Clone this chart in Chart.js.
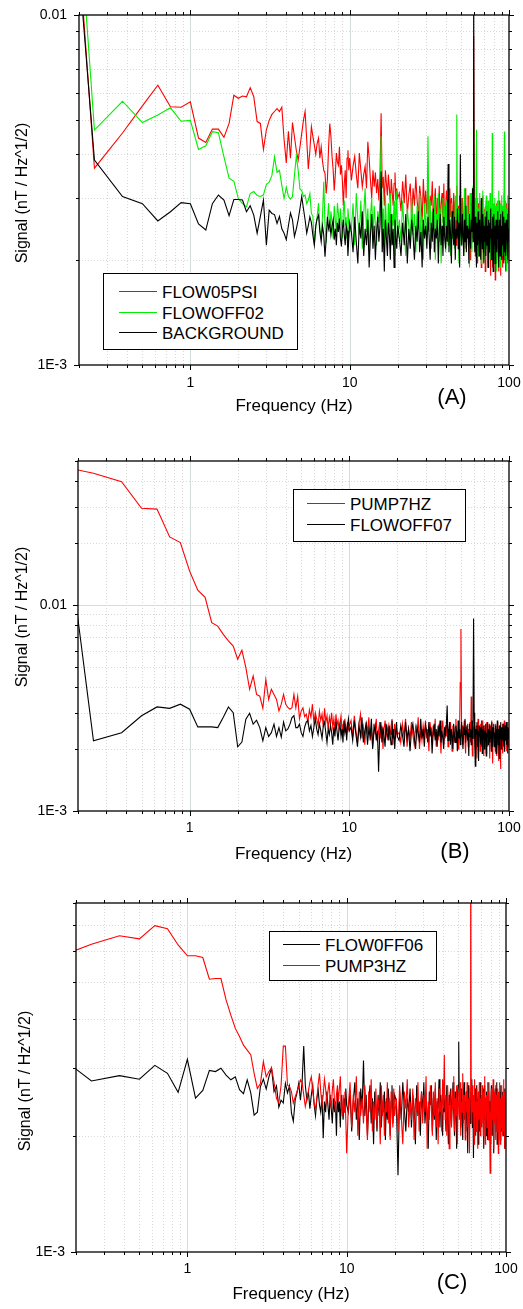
<!DOCTYPE html>
<html>
<head>
<meta charset="utf-8">
<title>Signal spectra</title>
<script src="https://cdn.jsdelivr.net/npm/chart.js@4.4.1/dist/chart.umd.min.js"></script>
<style>
  body { margin: 0; background: #fff; font-family: 'Liberation Sans', Arial, sans-serif; color: #000; }
  #page { position: relative; width: 523px; height: 1309px; overflow: hidden; }
  #page canvas { position: absolute; left: 0; }
  .ytitle { position: absolute; font-size: 16px; line-height: 1; white-space: nowrap; transform: translate(-50%, -50%) rotate(-90deg); }
  .tag { position: absolute; font-size: 22px; line-height: 1; white-space: nowrap; transform: translate(-50%, -50%); }
  .legend { position: absolute; border: 1px solid #000; background: #fff; box-sizing: border-box; }
  .legend .swatch { position: absolute; height: 0; border-top: 1.5px solid #000; }
  .legend .name { position: absolute; font-size: 17px; line-height: 1; white-space: nowrap; transform: translateY(-50%); }
</style>
</head>
<body>
<div id="page">
  <canvas id="panelA" width="523" height="420" style="top:0px"></canvas>
  <canvas id="panelB" width="523" height="430" style="top:440px"></canvas>
  <canvas id="panelC" width="523" height="429" style="top:880px"></canvas>
</div>
<script>
// spectral density values are stored in units of 1e-3 nT / Hz^1/2
const UNIT = 1e-3;

// frequency bins: 0.125 Hz resolution up to 10 Hz, coarser above
const binSegments = [
  [0.125, 0.125, 80],
  [10.25, 0.25, 40],
  [20.5, 0.5, 160]
];
const freqBins = [];
binSegments.forEach(([start, step, n]) => {
  for (let k = 0; k < n; k++) freqBins.push(+(start + k * step).toFixed(3));
});

const xTicks = [0.2, 0.3, 0.4, 0.5, 0.6, 0.7, 0.8, 0.9, 1, 2, 3, 4, 5, 6, 7, 8, 9, 10, 20, 30, 40, 50, 60, 70, 80, 90, 100];
const xTickText = ['', '', '', '', '', '', '', '', '1', '', '', '', '', '', '', '', '', '10', '', '', '', '', '', '', '', '', '100'];

const yTicksA = [0.001, 0.002, 0.003, 0.004, 0.005, 0.006, 0.007, 0.008, 0.009, 0.01];
const yTextA = ['1E-3', '', '', '', '', '', '', '', '', '0.01'];
const yTicksB = [0.001, 0.002, 0.003, 0.004, 0.005, 0.006, 0.007, 0.008, 0.009, 0.01, 0.02, 0.03, 0.04, 0.05];
const yTextB = ['1E-3', '', '', '', '', '', '', '', '', '0.01', '', '', '', ''];
const yTicksC = [0.001, 0.002, 0.003, 0.004, 0.005, 0.006, 0.007, 0.008];
const yTextC = ['1E-3', '', '', '', '', '', '', ''];

// ---- panel A ----
const flow05psi = [
  300, 3.65, 4.6, 5.5, 6.3, 5.47, 5.45, 5.65, 4.45, 4.32,
  4.72, 4.72, 4.47, 4.9, 5.9, 5.78, 5.87, 5.84, 6.2, 5.84,
  4.96, 4.9, 4.13, 4.7, 5.0, 5.2, 5.3, 5.4, 5.3, 5.45,
  4.4, 3.78, 4.65, 3.9, 4.93, 4.49, 4.1, 3.85, 4.2, 4.59,
  5.0, 5.3, 4.4, 3.63, 4.1, 4.8, 4.5, 4.25, 4.0, 4.3,
  4.45, 3.9, 4.2, 3.83, 3.6, 3.53, 3.09, 3.4, 4.2, 4.9,
  4.5, 3.94, 3.61, 3.15, 3.5, 4.03, 3.8, 3.72, 4.2, 3.5,
  3.72, 3.35, 2.85, 3.3, 3.6, 3.0, 3.9, 4.11, 3.6, 3.9,
  3.37, 3.7, 3.94, 3.5, 3.2, 4.03, 3.6, 3.23, 3.5, 3.69,
  3.2, 4.34, 3.9, 3.37, 3.0, 3.6, 3.23, 3.55, 3.1, 3.4,
  2.95, 3.5, 5.24, 3.2, 3.45, 2.85, 3.6, 3.3, 3.05, 3.5,
  3.2, 2.9, 3.4, 3.1, 2.85, 3.3, 3.55, 2.95, 3.2, 3.0,
  3.1, 2.75, 3.35, 2.9, 3.5, 2.7, 3.05, 3.3, 2.6, 3.2,
  2.85, 3.45, 2.95, 2.65, 3.25, 3.0, 2.55, 3.4, 2.8, 3.15,
  2.7, 3.3, 2.5, 3.05, 2.85, 3.35, 2.6, 2.95, 3.2, 2.45,
  3.0, 2.7, 3.25, 2.4, 2.9, 3.1, 2.55, 3.3, 2.35, 2.8,
  3.15, 2.5, 2.95, 2.25, 3.2, 2.65, 3.0, 2.3, 2.85, 3.1,
  2.4, 2.95, 2.2, 3.25, 2.6, 2.85, 2.15, 3.05, 2.5, 2.9,
  2.3, 3.0, 2.55, 2.1, 2.95, 2.45, 3.2, 2.2, 2.75, 2.5,
  3.05, 2.25, 2.7, 2.0, 2.9, 2.45, 3.1, 2.3, 2.6, 8.7,
  2.4, 2.85, 2.05, 3.0, 2.35, 2.7, 1.95, 2.9, 2.5, 2.2,
  2.95, 2.15, 2.6, 1.9, 2.75, 2.4, 3.05, 2.1, 2.55, 2.3,
  2.8, 1.85, 2.5, 2.95, 2.2, 2.65, 1.95, 2.85, 2.35, 2.1,
  2.7, 2.25, 1.8, 2.9, 2.4, 2.05, 2.75, 1.9, 2.6, 2.3,
  2.05, 2.85, 2.2, 1.75, 2.6, 2.35, 2.9, 1.95, 2.5, 2.15,
  2.75, 1.85, 2.4, 2.95, 2.1, 2.55, 1.8, 2.7, 2.25, 2.0,
  2.6, 2.3, 1.9, 2.85, 2.15, 2.5, 2.0, 2.75, 2.35, 1.85,
  2.65, 2.2, 2.9, 2.05, 2.45, 1.95, 2.8, 2.3, 2.55, 2.9
];
const flowoff02 = [
  400, 4.69, 5.67, 4.93, 5.18, 5.43, 4.97, 5.0, 4.13, 4.23,
  4.64, 4.61, 3.93, 3.42, 3.35, 2.99, 2.89, 2.83, 3.09, 3.13,
  3.05, 3.03, 3.06, 3.28, 3.33, 3.48, 3.93, 3.55, 3.6, 3.26,
  2.99, 3.22, 3.03, 2.98, 3.03, 3.48, 3.95, 3.6, 3.18, 3.15,
  3.03, 3.06, 2.89, 2.96, 3.09, 2.71, 2.66, 2.2, 2.48, 2.66,
  2.9, 2.45, 2.3, 2.66, 3.34, 2.5, 2.23, 2.6, 2.9, 2.4,
  2.75, 2.55, 2.3, 2.85, 2.6, 2.4, 2.9, 2.7, 2.45, 2.8,
  2.55, 2.3, 2.75, 2.95, 2.5, 2.65, 2.3, 2.8, 2.6, 2.4,
  2.45, 2.9, 2.2, 3.1, 2.6, 2.35, 2.95, 2.15, 2.7, 3.2,
  2.4, 2.8, 2.1, 2.65, 3.0, 2.3, 2.85, 2.5, 2.2, 2.75,
  2.55, 2.95, 4.5, 2.35, 2.8, 2.15, 3.05, 2.5, 2.25, 2.9,
  2.4, 3.1, 2.2, 2.7, 2.5, 2.95, 2.05, 2.6, 3.15, 2.3,
  2.6, 2.25, 2.95, 2.4, 2.05, 2.8, 2.5, 2.2, 3.0, 2.35,
  2.7, 2.1, 2.85, 2.45, 3.1, 2.2, 2.65, 2.0, 2.9, 2.55,
  2.3, 4.5, 2.4, 2.95, 2.15, 2.75, 2.5, 3.05, 2.0, 2.7,
  2.45, 3.1, 2.25, 2.8, 1.95, 2.6, 3.0, 2.35, 2.85, 2.1,
  2.95, 2.4, 2.2, 3.15, 2.5, 2.05, 2.9, 2.3, 2.7, 2.55,
  2.15, 3.05, 2.6, 5.2, 2.35, 2.8, 1.95, 2.95, 2.45, 2.2,
  3.0, 2.3, 2.65, 2.05, 3.2, 2.5, 2.15, 2.85, 2.4, 3.05,
  2.2, 2.7, 1.9, 3.1, 2.45, 2.85, 2.1, 2.6, 3.25, 2.35,
  2.55, 2.95, 2.2, 2.75, 4.7, 2.4, 3.0, 2.05, 2.8, 2.3,
  3.1, 2.25, 2.65, 1.95, 2.9, 2.5, 3.15, 2.2, 2.75, 2.4,
  2.0, 2.85, 2.35, 3.05, 2.15, 2.7, 1.9, 2.95, 2.45, 2.6,
  2.25, 3.1, 2.5, 2.0, 2.8, 2.35, 4.6, 2.15, 2.9, 2.45,
  2.7, 1.95, 3.0, 2.4, 2.2, 2.85, 2.55, 1.85, 2.95, 2.3,
  2.6, 3.15, 2.1, 2.75, 2.35, 1.9, 2.9, 2.5, 2.2, 3.05,
  2.4, 2.05, 2.85, 2.55, 3.1, 2.25, 4.65, 2.0, 2.7, 2.45,
  2.95, 2.2, 1.85, 2.8, 2.5, 3.05, 2.1, 2.65, 2.35, 2.7
];
const background = [
  200, 3.85, 3.03, 2.89, 2.58, 2.74, 2.91, 2.89, 2.53, 2.43,
  2.89, 3.06, 2.96, 2.67, 2.97, 2.97, 2.96, 2.74, 2.85, 2.68,
  2.38, 2.66, 2.96, 2.2, 2.77, 2.71, 2.69, 2.54, 2.66, 2.45,
  2.38, 2.28, 2.5, 2.72, 2.6, 2.33, 2.45, 2.6, 2.8, 3.03,
  2.8, 2.6, 2.38, 2.5, 2.65, 2.55, 2.35, 2.2, 2.5, 2.62,
  2.68, 2.4, 2.25, 2.5, 2.35, 2.04, 2.3, 2.65, 2.45, 2.55,
  2.35, 2.5, 2.6, 2.28, 2.45, 2.2, 2.55, 2.4, 2.62, 2.3,
  2.18, 2.45, 2.6, 2.35, 2.2, 2.5, 2.42, 2.05, 2.3, 2.55,
  2.4, 2.1, 2.65, 2.25, 1.95, 2.55, 2.3, 2.75, 2.05, 2.45,
  2.2, 2.6, 1.9, 2.35, 2.7, 2.15, 2.5, 2.0, 2.4, 2.65,
  2.25, 2.5, 3.57, 2.1, 2.45, 1.85, 2.6, 2.3, 2.05, 2.55,
  2.35, 2.0, 2.7, 2.2, 2.45, 1.9, 2.6, 2.3, 2.15, 2.5,
  2.3, 2.05, 2.55, 2.2, 2.7, 1.95, 2.45, 2.15, 2.6, 2.35,
  2.0, 2.5, 2.25, 2.75, 2.1, 2.4, 1.9, 2.6, 2.3, 2.5,
  2.15, 2.65, 2.35, 2.0, 2.55, 2.25, 2.8, 2.1, 2.45, 2.3,
  2.6, 1.95, 2.4, 2.7, 2.2, 2.5, 2.05, 2.65, 2.3, 2.15,
  2.5, 2.25, 3.75, 2.1, 2.6, 2.35, 1.95, 2.75, 2.4, 2.2,
  2.65, 2.0, 2.45, 2.3, 2.8, 2.15, 2.55, 1.9, 4.0, 2.4,
  2.2, 2.7, 2.35, 2.05, 2.6, 2.25, 2.85, 2.1, 2.5, 2.3,
  2.45, 1.95, 2.7, 2.3, 2.15, 2.6, 2.4, 3.2, 2.25, 13,
  2.5, 2.1, 2.65, 2.3, 1.9, 2.55, 2.2, 2.75, 2.4, 2.05,
  2.6, 2.3, 2.0, 3.0, 2.35, 2.15, 2.7, 2.45, 1.95, 2.5,
  2.25, 2.65, 2.05, 2.4, 2.75, 2.2, 2.5, 1.9, 2.6, 2.35,
  2.1, 2.55, 2.3, 2.8, 2.0, 2.45, 2.25, 2.65, 1.85, 2.4,
  2.7, 2.2, 2.5, 1.95, 2.35, 2.6, 2.1, 2.45, 2.3, 2.75,
  2.15, 2.5, 1.9, 2.6, 2.35, 2.05, 2.7, 2.25, 2.5, 2.0,
  2.45, 2.75, 2.2, 2.4, 1.95, 2.65, 2.3, 2.1, 2.55, 2.35,
  2.05, 2.6, 2.3, 2.5, 2.15, 2.7, 2.0, 2.45, 2.25, 2.4
];

// ---- panel B ----
const pump7hz = [
  48.9, 43.6, 39.7, 29.5, 29.2, 21.4, 20.1, 14.6, 11.8, 10.9,
  8.2, 7.9, 7.2, 6.7, 6.32, 5.45, 6.03, 4.96, 3.9, 4.52,
  3.68, 3.61, 3.15, 4.35, 3.48, 3.9, 3.68, 3.48, 3.06, 3.3,
  3.68, 3.3, 3.18, 3.12, 3.17, 3.68, 3.17, 3.6, 2.8, 3.06,
  3.17, 2.87, 2.95, 2.7, 3.1, 2.85, 3.3, 2.7, 3.0, 2.8,
  2.6, 3.05, 2.75, 2.95, 2.55, 3.15, 2.7, 2.9, 2.5, 2.85,
  2.65, 3.0, 2.55, 2.8, 2.45, 2.95, 2.6, 2.75, 2.5, 2.7,
  2.9, 2.45, 2.65, 2.4, 2.8, 2.55, 2.35, 2.7, 2.5, 2.6,
  2.75, 2.3, 2.9, 2.45, 2.15, 2.65, 2.95, 2.25, 2.55, 2.1,
  2.7, 2.4, 2.85, 2.2, 2.5, 2.05, 2.65, 2.35, 2.8, 2.15,
  2.45, 2.7, 2.25, 2.6, 2.0, 2.5, 2.75, 2.3, 2.45, 2.6,
  2.2, 2.55, 2.35, 2.8, 2.1, 2.45, 2.65, 2.25, 2.5, 2.35,
  2.4, 2.15, 2.65, 2.3, 2.8, 2.05, 2.5, 2.25, 2.7, 2.35,
  2.1, 2.55, 2.3, 2.85, 2.0, 2.45, 2.2, 2.6, 2.35, 2.75,
  2.25, 2.5, 1.95, 2.7, 2.4, 2.15, 2.6, 2.3, 2.8, 2.05,
  2.45, 2.2, 2.65, 2.35, 1.9, 2.55, 2.75, 2.1, 2.4, 2.6,
  2.3, 2.85, 2.05, 2.5, 2.2, 2.7, 2.35, 1.95, 2.6, 2.4,
  2.15, 2.55, 2.8, 2.25, 2.45, 2.0, 2.65, 2.35, 4.2, 7.65,
  2.3, 2.6, 2.1, 2.45, 2.75, 2.2, 1.9, 2.55, 2.4, 2.65,
  2.05, 2.5, 2.3, 2.7, 2.15, 3.6, 2.4, 1.85, 2.6, 2.5,
  2.25, 2.7, 2.0, 2.45, 2.6, 1.8, 2.35, 2.8, 2.15, 2.5,
  2.4, 1.95, 2.65, 2.3, 2.05, 2.55, 2.75, 2.2, 1.85, 2.45,
  2.6, 2.15, 2.4, 1.9, 2.7, 2.3, 2.05, 2.5, 2.25, 2.65,
  1.8, 2.45, 2.3, 2.6, 2.0, 2.75, 2.2, 1.7, 2.5, 2.35,
  2.55, 2.1, 2.4, 1.95, 2.65, 2.25, 2.5, 1.85, 2.35, 2.7,
  2.2, 2.45, 1.75, 2.6, 2.3, 2.05, 1.6, 2.55, 2.4, 2.15,
  2.5, 1.9, 2.65, 2.3, 2.1, 2.45, 2.75, 2.0, 2.35, 2.55,
  2.2, 2.6, 1.95, 2.4, 2.7, 2.15, 2.5, 2.05, 2.3, 2.55
];
const flowoff07 = [
  148, 2.19, 2.4, 2.9, 3.2, 3.15, 3.3, 3.12, 2.56, 2.56,
  2.56, 2.54, 2.85, 3.2, 3.0, 2.05, 2.16, 2.79, 2.98, 2.64,
  2.76, 2.54, 2.19, 2.54, 2.3, 2.4, 2.64, 2.3, 2.54, 2.28,
  2.7, 2.45, 2.5, 2.64, 2.84, 2.9, 2.54, 2.54, 2.64, 2.4,
  2.3, 2.55, 2.7, 2.75, 2.45, 2.6, 2.3, 2.55, 2.8, 2.5,
  2.35, 2.65, 2.45, 2.25, 2.6, 2.7, 2.4, 2.15, 2.5, 2.35,
  2.6, 2.4, 2.1, 2.55, 2.3, 2.7, 2.45, 2.2, 2.5, 2.65,
  2.3, 2.5, 2.15, 2.75, 2.4, 2.55, 2.2, 2.6, 2.8, 2.45,
  2.55, 2.2, 2.75, 2.35, 2.05, 2.6, 2.3, 2.85, 2.15, 2.45,
  2.65, 2.1, 2.5, 2.3, 2.8, 2.0, 2.4, 2.6, 2.2, 2.45,
  1.55, 2.35, 2.7, 2.15, 2.55, 2.3, 2.05, 2.65, 2.4, 2.2,
  2.6, 2.35, 2.1, 2.75, 2.25, 2.5, 2.0, 2.4, 2.7, 2.3,
  2.2, 2.6, 2.35, 2.05, 2.7, 2.25, 2.5, 1.95, 2.45, 2.65,
  2.3, 2.0, 2.55, 2.4, 2.15, 2.8, 2.25, 2.5, 2.05, 2.6,
  2.45, 2.15, 2.7, 2.3, 2.55, 1.9, 2.4, 2.65, 2.2, 2.5,
  2.05, 2.6, 2.3, 2.75, 2.15, 2.45, 2.25, 2.0, 2.55, 2.35,
  2.6, 3.25, 2.2, 2.45, 2.7, 2.1, 2.5, 2.3, 2.0, 2.65,
  2.35, 2.15, 2.6, 2.4, 1.95, 2.75, 2.25, 2.5, 2.1, 2.45,
  2.7, 2.25, 2.0, 2.55, 2.35, 2.8, 2.15, 2.45, 2.6, 2.2,
  2.4, 1.85, 2.65, 2.3, 2.5, 2.1, 2.75, 2.25, 2.55, 8.6,
  3.0, 2.2, 1.65, 2.5, 2.35, 2.7, 2.05, 2.45, 1.75, 2.6,
  2.3, 2.55, 2.1, 2.4, 2.75, 1.9, 2.5, 2.25, 2.6, 2.0,
  2.45, 2.2, 2.65, 1.85, 2.4, 2.3, 2.7, 2.1, 2.5, 2.35,
  2.15, 2.6, 2.25, 2.45, 1.95, 2.7, 2.3, 2.05, 2.55, 2.4,
  2.65, 2.05, 2.4, 2.3, 2.6, 1.9, 2.5, 2.2, 2.75, 2.3,
  2.1, 2.5, 2.35, 1.8, 2.6, 2.25, 2.45, 2.7, 2.0, 2.4,
  2.55, 2.2, 2.4, 2.65, 2.05, 2.5, 1.95, 2.35, 2.6, 2.2,
  2.4, 2.7, 2.1, 2.45, 2.3, 1.9, 2.55, 2.25, 2.5, 2.35
];

// ---- panel C ----
const flow0ff06 = [
  3.45, 2.77, 2.86, 2.8, 3.04, 2.9, 2.59, 3.15, 2.5, 2.62,
  2.95, 2.93, 2.99, 2.87, 2.79, 2.84, 2.63, 2.57, 2.79, 2.58,
  2.26, 2.3, 2.68, 2.8, 2.64, 2.84, 2.99, 2.6, 2.69, 2.37,
  2.47, 2.43, 2.73, 2.58, 2.69, 2.29, 2.18, 2.47, 2.58, 2.73,
  2.47, 2.75, 3.41, 2.7, 2.47, 2.6, 2.35, 2.55, 2.7, 2.4,
  2.25, 2.5, 2.62, 2.4, 2.3, 2.55, 1.97, 2.45, 2.3, 2.6,
  2.4, 2.2, 2.55, 2.35, 2.15, 2.5, 2.3, 2.45, 2.0, 2.6,
  2.3, 2.45, 2.1, 2.55, 2.35, 2.2, 2.5, 2.3, 2.65, 2.4,
  2.3, 2.6, 2.05, 2.45, 2.75, 2.2, 2.5, 1.95, 2.65, 2.35,
  3.13, 2.25, 2.55, 2.0, 2.4, 2.7, 2.15, 2.5, 1.9, 2.6,
  2.35, 2.05, 2.55, 2.25, 2.75, 2.1, 2.45, 2.3, 2.6, 1.95,
  2.5, 2.2, 2.65, 2.35, 2.0, 2.45, 2.7, 2.15, 2.4, 2.55,
  2.45, 1.58, 2.6, 2.2, 2.75, 2.35, 2.05, 2.5, 2.3, 2.65,
  2.1, 2.55, 2.35, 1.9, 2.7, 2.25, 2.45, 2.0, 2.6, 2.3,
  2.75, 2.15, 2.45, 2.3, 1.85, 2.6, 2.4, 2.7, 2.05, 2.5,
  2.2, 2.65, 1.95, 2.45, 2.35, 2.8, 2.1, 2.55, 2.3, 2.0,
  2.6, 2.3, 2.5, 2.05, 2.7, 2.2, 1.9, 2.55, 2.4, 2.65,
  2.15, 2.45, 2.75, 2.3, 2.0, 2.6, 2.35, 1.85, 2.5, 2.7,
  3.5, 2.25, 2.4, 2.1, 2.65, 2.3, 1.95, 2.55, 2.75, 2.2,
  2.45, 2.05, 2.6, 2.35, 1.8, 2.7, 2.25, 2.5, 2.15, 2.6,
  2.3, 2.8, 2.1, 2.45, 1.75, 2.55, 2.35, 2.65, 2.0, 2.4,
  2.7, 2.2, 2.5, 1.9, 2.6, 2.35, 2.05, 2.75, 2.3, 2.45,
  2.1, 2.55, 2.3, 2.65, 1.85, 2.4, 2.7, 2.2, 2.5, 2.0,
  2.6, 2.35, 1.95, 2.5, 2.25, 2.75, 2.1, 2.45, 2.3, 1.9,
  2.4, 2.7, 2.15, 2.55, 2.0, 2.35, 2.6, 1.8, 2.45, 2.25,
  2.65, 2.05, 2.5, 2.3, 2.75, 1.9, 2.4, 2.2, 2.55, 2.35,
  2.15, 2.6, 2.4, 1.95, 2.7, 2.25, 2.5, 2.05, 2.35, 2.6,
  2.3, 2.0, 2.55, 2.4, 2.2, 2.65, 1.85, 2.45, 2.3, 2.5
];
const pump3hz = [
  5.6, 6.26, 6.58, 6.46, 6.99, 6.86, 6.23, 5.84, 5.84, 5.78,
  5.08, 5.1, 5.1, 4.49, 4.1, 3.79, 3.61, 3.43, 3.33, 3.24,
  2.9, 2.65, 2.73, 3.11, 2.84, 2.93, 3.0, 2.75, 2.5, 2.43,
  2.7, 3.41, 3.41, 2.7, 2.68, 2.6, 2.43, 2.52, 2.6, 2.68,
  2.79, 2.75, 2.55, 2.38, 2.5, 2.6, 2.75, 2.84, 2.6, 2.43,
  2.33, 2.5, 2.72, 2.9, 2.6, 2.4, 2.55, 2.8, 2.65, 2.45,
  2.6, 2.75, 2.5, 2.35, 2.62, 2.8, 2.48, 2.3, 2.55, 2.7,
  2.45, 2.65, 2.85, 2.4, 2.25, 2.55, 2.3, 2.6, 2.2, 1.8,
  2.4, 2.75, 2.1, 2.55, 2.3, 2.85, 2.0, 2.6, 2.25, 2.5,
  2.15, 2.7, 2.35, 1.95, 2.6, 2.3, 2.8, 2.05, 2.45, 2.2,
  2.65, 2.1, 2.5, 2.35, 1.9, 2.7, 2.25, 2.55, 2.0, 2.45,
  2.3, 2.75, 2.15, 2.5, 1.95, 2.6, 2.35, 2.1, 2.65, 2.25,
  2.5, 2.05, 2.7, 2.25, 1.9, 2.6, 2.35, 2.8, 2.1, 2.45,
  2.2, 2.65, 1.95, 2.5, 2.3, 2.75, 2.05, 2.4, 2.6, 2.15,
  2.55, 2.3, 2.85, 1.85, 2.45, 2.2, 2.7, 2.35, 2.0, 2.6,
  2.25, 2.75, 2.1, 2.5, 1.9, 2.65, 2.3, 2.45, 2.05, 2.8,
  2.35, 3.24, 2.2, 2.55, 2.0, 2.7, 2.4, 1.85, 2.6, 2.3,
  2.1, 2.65, 2.35, 2.85, 2.05, 2.5, 2.25, 2.7, 1.9, 2.45,
  2.6, 2.2, 2.75, 2.0, 2.45, 2.3, 2.9, 2.15, 2.55, 2.35,
  1.95, 2.6, 2.3, 2.75, 2.1, 2.5, 2.25, 1.8, 2.65, 15,
  2.4, 2.15, 2.7, 2.3, 2.55, 1.9, 2.8, 2.25, 2.45, 2.05,
  2.65, 2.35, 1.85, 2.6, 2.2, 2.75, 2.4, 2.0, 2.5, 2.3,
  2.15, 2.7, 2.45, 2.0, 2.6, 2.25, 2.85, 1.9, 2.5, 2.35,
  2.55, 2.1, 2.4, 2.75, 1.95, 2.6, 2.3, 2.05, 1.6, 2.45,
  2.3, 2.65, 2.0, 2.5, 2.2, 2.8, 1.85, 2.45, 2.6, 2.15,
  2.4, 1.95, 2.7, 2.25, 2.55, 2.05, 2.65, 2.35, 1.8, 2.6,
  2.2, 2.75, 2.3, 1.9, 2.5, 2.4, 2.1, 2.7, 2.35, 2.0,
  2.55, 2.25, 2.8, 2.05, 2.45, 1.85, 2.6, 2.3, 2.15, 2.5
];

Chart.defaults.font.family = "'Liberation Sans', Arial, sans-serif";
Chart.defaults.color = '#000';

const panels = [
  {
    canvas: 'panelA', top: 0, height: 420,
    padTop: 15, padRight: 14, yAxisWidth: 79, xAxisHeight: 55,
    xLabelPad: 10, yLabelPad: 12, titlePad: 3,
    yMin: 0.001, yMax: 0.01, yTicks: yTicksA, yText: yTextA,
    series: [
      { name: 'FLOW05PSI', values: flow05psi, color: '#ff0000' },
      { name: 'FLOWOFF02', values: flowoff02, color: '#00ee00' },
      { name: 'BACKGROUND', values: background, color: '#000000' }
    ],
    legend: { x: 103, y: 273, w: 195, h: 77, rows: [17.5, 38.5, 59], lineX: 15, lineW: 38, textX: 58 },
    yTitle: { x: 22, y: 193 },
    tag: { text: '(A)', x: 452, y: 397 }
  },
  {
    canvas: 'panelB', top: 440, height: 430,
    padTop: 21, padRight: 14, yAxisWidth: 78, xAxisHeight: 59,
    xLabelPad: 9, yLabelPad: 11, titlePad: 5,
    yMin: 0.001, yMax: 0.05, yTicks: yTicksB, yText: yTextB,
    series: [
      { name: 'PUMP7HZ', values: pump7hz, color: '#ff0000' },
      { name: 'FLOWOFF07', values: flowoff07, color: '#000000' }
    ],
    legend: { x: 293, y: 489, w: 173, h: 53, rows: [13.5, 35], lineX: 13, lineW: 38, textX: 56 },
    yTitle: { x: 22, y: 617 },
    tag: { text: '(B)', x: 455, y: 851 }
  },
  {
    canvas: 'panelC', top: 880, height: 429,
    padTop: 23, padRight: 17, yAxisWidth: 76, xAxisHeight: 57,
    xLabelPad: 9, yLabelPad: 11, titlePad: 4,
    yMin: 0.001, yMax: 0.008, yTicks: yTicksC, yText: yTextC,
    series: [
      { name: 'FLOW0FF06', values: flow0ff06, color: '#000000' },
      { name: 'PUMP3HZ', values: pump3hz, color: '#ff0000' }
    ],
    legend: { x: 269, y: 931, w: 168, h: 50, rows: [13, 34], lineX: 13, lineW: 37, textX: 55 },
    yTitle: { x: 25, y: 1081 },
    tag: { text: '(C)', x: 452, y: 1282 }
  }
];

const isDecade = v => Math.abs(Math.log10(v) - Math.round(Math.log10(v))) < 1e-6;

function gridLine(ctx, x1, y1, x2, y2, major) {
  ctx.beginPath();
  ctx.strokeStyle = major ? '#d2dddc' : '#d8d8d8';
  ctx.setLineDash(major ? [] : [1, 2]);
  ctx.moveTo(x1, y1);
  ctx.lineTo(x2, y2);
  ctx.stroke();
}

function zeroPad(axis) {
  axis.paddingLeft = axis.paddingRight = axis.paddingTop = axis.paddingBottom = 0;
}

// dotted minor grid, solid decade lines, box frame and tick marks
function framePlugin(p) {
  return {
    id: 'frame',
    beforeDatasetsDraw(chart) {
      const { ctx, chartArea: a, scales } = chart;
      ctx.save();
      ctx.lineWidth = 1;
      xTicks.forEach(v => {
        const px = Math.round(scales.x.getPixelForValue(v)) + 0.5;
        if (px > a.left + 1 && px < a.right - 1) gridLine(ctx, px, a.top, px, a.bottom, isDecade(v));
      });
      p.yTicks.forEach(v => {
        const py = Math.round(scales.y.getPixelForValue(v)) + 0.5;
        if (py > a.top + 1 && py < a.bottom - 1) gridLine(ctx, a.left, py, a.right, py, isDecade(v));
      });
      ctx.restore();
    },
    afterDatasetsDraw(chart) {
      const { ctx, chartArea: a, scales } = chart;
      ctx.save();
      ctx.setLineDash([]);
      ctx.strokeStyle = '#000';
      ctx.lineWidth = 1;
      ctx.beginPath();
      xTicks.forEach(v => {
        const px = Math.round(scales.x.getPixelForValue(v)) + 0.5;
        const len = isDecade(v) ? 5 : 3;
        ctx.moveTo(px, a.bottom); ctx.lineTo(px, a.bottom + len);
        ctx.moveTo(px, a.top); ctx.lineTo(px, a.top - len);
      });
      p.yTicks.forEach(v => {
        const py = Math.round(scales.y.getPixelForValue(v)) + 0.5;
        const len = isDecade(v) ? 5 : 3;
        ctx.moveTo(a.left, py); ctx.lineTo(a.left - len, py);
        ctx.moveTo(a.right, py); ctx.lineTo(a.right + len, py);
      });
      ctx.stroke();
      ctx.lineWidth = 1.3;
      ctx.strokeRect(a.left, a.top, a.right - a.left, a.bottom - a.top);
      ctx.restore();
    }
  };
}

function makePanel(p) {
  const n = p.series.length;
  const datasets = p.series.map((s, i) => ({
    label: s.name,
    data: freqBins.map((f, k) => ({ x: f, y: s.values[k] * UNIT })),
    borderColor: s.color,
    borderWidth: 1.1,
    pointRadius: 0,
    tension: 0,
    fill: false,
    order: n - i   // later series are drawn on top
  }));

  new Chart(document.getElementById(p.canvas), {
    type: 'line',
    data: { datasets },
    plugins: [framePlugin(p)],
    options: {
      responsive: false,
      animation: false,
      events: [],
      layout: { padding: { left: 0, top: p.padTop, right: p.padRight, bottom: 0 } },
      plugins: { legend: { display: false }, tooltip: { enabled: false } },
      scales: {
        x: {
          type: 'logarithmic', position: 'bottom', min: 0.2, max: 100, bounds: 'data',
          grid: { display: false, drawTicks: false }, border: { display: false },
          afterBuildTicks: ax => { ax.ticks = xTicks.map(v => ({ value: v })); },
          afterFit: ax => { ax.height = p.xAxisHeight; zeroPad(ax); },
          ticks: {
            autoSkip: false, maxRotation: 0, minRotation: 0, padding: p.xLabelPad,
            font: { size: 14 }, color: '#000',
            callback: (v, i) => xTickText[i]
          },
          title: {
            display: true, text: 'Frequency (Hz)', color: '#000',
            font: { size: 17 }, padding: { top: 0, bottom: p.titlePad }
          }
        },
        y: {
          type: 'logarithmic', position: 'left', min: p.yMin, max: p.yMax, bounds: 'data',
          grid: { display: false, drawTicks: false }, border: { display: false },
          afterBuildTicks: ax => { ax.ticks = p.yTicks.map(v => ({ value: v })); },
          afterFit: ax => { ax.width = p.yAxisWidth; zeroPad(ax); },
          ticks: {
            autoSkip: false, padding: p.yLabelPad,
            font: { size: 14 }, color: '#000',
            callback: (v, i) => p.yText[i]
          }
        }
      }
    }
  });

  const page = document.getElementById('page');

  const yt = document.createElement('div');
  yt.className = 'ytitle';
  yt.textContent = 'Signal (nT / Hz^1/2)';
  yt.style.left = p.yTitle.x + 'px';
  yt.style.top = p.yTitle.y + 'px';
  page.appendChild(yt);

  const tag = document.createElement('div');
  tag.className = 'tag';
  tag.textContent = p.tag.text;
  tag.style.left = p.tag.x + 'px';
  tag.style.top = p.tag.y + 'px';
  page.appendChild(tag);

  const L = p.legend;
  const box = document.createElement('div');
  box.className = 'legend';
  Object.assign(box.style, { left: L.x + 'px', top: L.y + 'px', width: L.w + 'px', height: L.h + 'px' });
  p.series.forEach((s, i) => {
    const sw = document.createElement('div');
    sw.className = 'swatch';
    Object.assign(sw.style, { left: L.lineX + 'px', width: L.lineW + 'px', top: (L.rows[i] - 0.75) + 'px', borderTopColor: s.color });
    const nm = document.createElement('div');
    nm.className = 'name';
    nm.textContent = s.name;
    Object.assign(nm.style, { left: L.textX + 'px', top: L.rows[i] + 'px' });
    box.append(sw, nm);
  });
  page.appendChild(box);
}

panels.forEach(makePanel);
</script>
</body>
</html>
